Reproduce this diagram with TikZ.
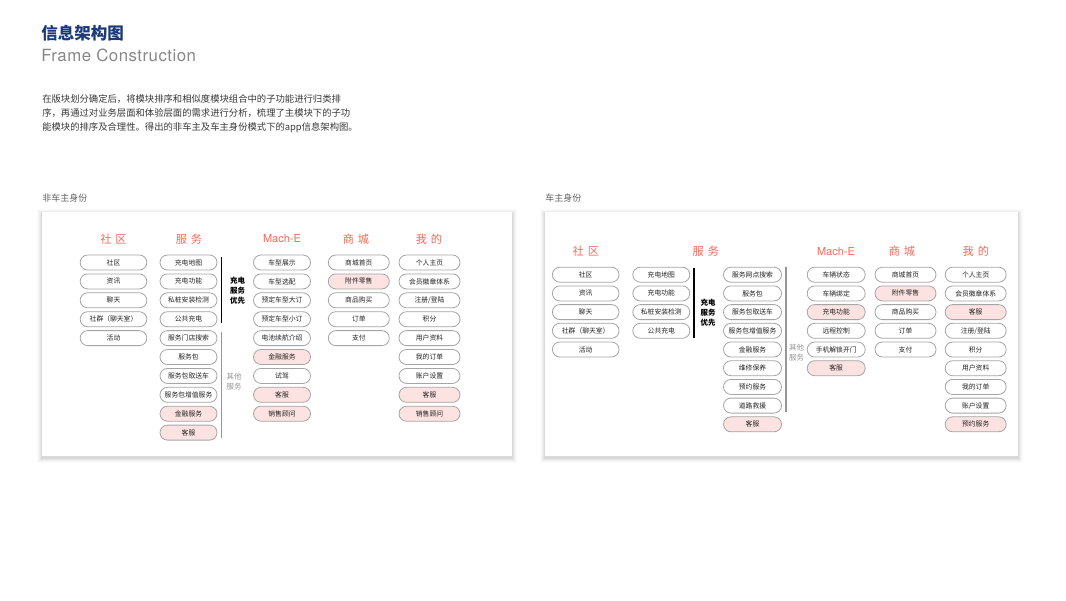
\documentclass[tikz,border=0pt]{standalone}
\usepackage{fontspec}
\setmainfont{Noto Sans CJK SC}
\newfontfamily\heros[LetterSpace=3]{TeX Gyre Heros}
\newfontfamily\herosplain{TeX Gyre Heros}
\definecolor{titleblue}{RGB}{27,58,122}
\definecolor{subgray}{RGB}{135,135,135}
\definecolor{bodygray}{RGB}{55,55,55}
\definecolor{labelgray}{RGB}{95,95,95}
\definecolor{coral}{RGB}{243,108,92}
\definecolor{pinkfill}{RGB}{252,226,224}
\definecolor{pillline}{RGB}{165,165,165}
\definecolor{pilltext}{RGB}{35,35,35}
\definecolor{othergray}{RGB}{150,150,150}
\usetikzlibrary{shapes.misc}
\tikzset{
  pill/.style={draw=pillline, line width=0.6pt, fill=white, rounded rectangle,
    minimum height=11.25pt, minimum width=#1, inner sep=0pt,
    font=\fontsize{5.1}{6}\selectfont, text=pilltext},
  pillhot/.style={pill=#1, fill=pinkfill},
  colhead/.style={text=coral, inner sep=0pt, font=\fontsize{8.4}{9}\selectfont},
  grouptag/.style={align=center, inner sep=0pt, font=\fontsize{5.6}{7.5}\selectfont},
  mainbar/.style={line width=1.1pt, black},
  otherbar/.style={line width=1.1pt, othergray},
}
\begin{document}
\begin{tikzpicture}[x=0.75pt, y=-0.75pt]
  \useasboundingbox (0,0) rectangle (1066,600);

  % header
  \node[anchor=west, inner sep=0pt, text=titleblue, font=\fontsize{12.4}{14}\selectfont\bfseries]
    (title) at (41,33) {信息架构图};
  \node[anchor=west, inner sep=0pt, text=subgray, font=\fontsize{12.6}{14}\selectfont\heros]
    (subtitle) at (41,55) {Frame Construction};
  \node[anchor=north west, inner sep=0pt, align=left, text=bodygray,
        font=\fontsize{7}{10.5}\selectfont] (intro) at (42,94)
    {在版块划分确定后，将模块排序和相似度模块组合中的子功能进行归类排\\
     序，再通过对业务层面和体验层面的需求进行分析，梳理了主模块下的子功\\
     能模块的排序及合理性。得出的非车主及车主身份模式下的app信息架构图。};

  % panel labels
  \node[anchor=west, inner sep=0pt, text=labelgray, font=\fontsize{6.75}{8}\selectfont]
    (lefttag) at (42,198) {非车主身份};
  \node[anchor=west, inner sep=0pt, text=labelgray, font=\fontsize{6.75}{8}\selectfont]
    (righttag) at (545,198) {车主身份};

  % panels with soft shadow
  \foreach \d/\o in {5/0.015,4/0.02,3/0.03,2/0.04,1/0.05} {
    \fill[black, opacity=\o] (42-\d,212-\d+2) rectangle (512+\d,456+\d+2);
    \fill[black, opacity=\o] (545-\d,212-\d+2) rectangle (1018+\d,456+\d+2);
  }
  \fill[white] (42,212) rectangle (512,456);
  \fill[white] (545,212) rectangle (1018,456);

  % ---------------- left panel: 非车主身份 ----------------
  \node[colhead] (lhs) at (113.5,239) {社\hspace{0.35em}区};
  \node[colhead] (lhf) at (189,239) {服\hspace{0.35em}务};
  \node[colhead, font=\fontsize{8.25}{9}\selectfont\herosplain] (lhm) at (282,239) {Mach-E};
  \node[colhead] (lhc) at (356,239) {商\hspace{0.35em}城};
  \node[colhead] (lhw) at (429,239) {我\hspace{0.35em}的};

  % 社区
  \node[pill=50pt] (ls1) at (113.5,262.5) {社区};
  \node[pill=50pt] (ls2) at (113.5,281.4) {资讯};
  \node[pill=50pt] (ls3) at (113.5,300.3) {聊天};
  \node[pill=50pt] (ls4) at (113.5,319.2) {社群（聊天室）};
  \node[pill=50pt] (ls5) at (113.5,338.1) {活动};

  % 服务
  \node[pill=42.75pt] (lf1) at (188.5,262.5) {充电地图};
  \node[pill=42.75pt] (lf2) at (188.5,281.4) {充电功能};
  \node[pill=42.75pt] (lf3) at (188.5,300.3) {私桩安装检测};
  \node[pill=42.75pt] (lf4) at (188.5,319.2) {公共充电};
  \node[pill=42.75pt] (lf5) at (188.5,338.1) {服务门店搜索};
  \node[pill=42.75pt] (lf6) at (188.5,357.0) {服务包};
  \node[pill=42.75pt] (lf7) at (188.5,375.9) {服务包取送车};
  \node[pill=42.75pt] (lf8) at (188.5,394.8) {服务包增值服务};
  \node[pillhot=42.75pt] (lf9) at (188.5,413.7) {金融服务};
  \node[pillhot=42.75pt] (lf10) at (188.5,432.6) {客服};

  \draw[mainbar] (221.7,256.7) -- (221.7,323.3);
  \draw[otherbar] (221.7,331.7) -- (221.7,438.3);
  \node[grouptag, font=\fontsize{5.6}{7.5}\selectfont\bfseries] (lprio) at (237.5,291) {充电\\服务\\优先};
  \node[grouptag, text=othergray] (lother) at (234,382) {其他\\服务};

  % Mach-E
  \node[pill=42.75pt] (lm1) at (282,262.5) {车型展示};
  \node[pill=42.75pt] (lm2) at (282,281.4) {车型选配};
  \node[pill=42.75pt] (lm3) at (282,300.3) {预定车型大订};
  \node[pill=42.75pt] (lm4) at (282,319.2) {预定车型小订};
  \node[pill=42.75pt] (lm5) at (282,338.1) {电池续航介绍};
  \node[pillhot=42.75pt] (lm6) at (282,357.0) {金融服务};
  \node[pill=42.75pt] (lm7) at (282,375.9) {试驾};
  \node[pillhot=42.75pt] (lm8) at (282,394.8) {客服};
  \node[pillhot=42.75pt] (lm9) at (282,413.7) {销售顾问};

  % 商城
  \node[pill=45.75pt] (lc1) at (358.8,262.5) {商城首页};
  \node[pillhot=45.75pt] (lc2) at (358.8,281.4) {附件零售};
  \node[pill=45.75pt] (lc3) at (358.8,300.3) {商品购买};
  \node[pill=45.75pt] (lc4) at (358.8,319.2) {订单};
  \node[pill=45.75pt] (lc5) at (358.8,338.1) {支付};

  % 我的
  \node[pill=45.75pt] (lw1) at (429.5,262.5) {个人主页};
  \node[pill=45.75pt] (lw2) at (429.5,281.4) {会员徽章体系};
  \node[pill=45.75pt] (lw3) at (429.5,300.3) {注册/登陆};
  \node[pill=45.75pt] (lw4) at (429.5,319.2) {积分};
  \node[pill=45.75pt] (lw5) at (429.5,338.1) {用户资料};
  \node[pill=45.75pt] (lw6) at (429.5,357.0) {我的订单};
  \node[pill=45.75pt] (lw7) at (429.5,375.9) {账户设置};
  \node[pillhot=45.75pt] (lw8) at (429.5,394.8) {客服};
  \node[pillhot=45.75pt] (lw9) at (429.5,413.7) {销售顾问};

  % ---------------- right panel: 车主身份 ----------------
  \node[colhead] (rhs) at (585.8,251.5) {社\hspace{0.35em}区};
  \node[colhead] (rhf) at (705.8,251.5) {服\hspace{0.35em}务};
  \node[colhead, font=\fontsize{8.25}{9}\selectfont\herosplain] (rhm) at (836,251.5) {Mach-E};
  \node[colhead] (rhc) at (902,251.5) {商\hspace{0.35em}城};
  \node[colhead] (rhw) at (975.8,251.5) {我\hspace{0.35em}的};

  % 社区
  \node[pill=50pt] (rs1) at (585.7,274.7) {社区};
  \node[pill=50pt] (rs2) at (585.7,293.4) {资讯};
  \node[pill=50pt] (rs3) at (585.7,312.1) {聊天};
  \node[pill=50pt] (rs4) at (585.7,330.8) {社群（聊天室）};
  \node[pill=50pt] (rs5) at (585.7,349.5) {活动};

  % 服务: charging first
  \node[pill=42.75pt] (rf1) at (661.3,274.7) {充电地图};
  \node[pill=42.75pt] (rf2) at (661.3,293.4) {充电功能};
  \node[pill=42.75pt] (rf3) at (661.3,312.1) {私桩安装检测};
  \node[pill=42.75pt] (rf4) at (661.3,330.8) {公共充电};

  \draw[mainbar] (694,268.3) -- (694,338.3);
  \node[grouptag, font=\fontsize{5.6}{7.5}\selectfont\bfseries] (rprio) at (708,313) {充电\\服务\\优先};

  % 服务: others
  \node[pill=43.5pt] (rg1) at (752.5,274.7) {服务网点搜索};
  \node[pill=43.5pt] (rg2) at (752.5,293.4) {服务包};
  \node[pill=43.5pt] (rg3) at (752.5,312.1) {服务包取送车};
  \node[pill=43.5pt] (rg4) at (752.5,330.8) {服务包增值服务};
  \node[pill=43.5pt] (rg5) at (752.5,349.5) {金融服务};
  \node[pill=43.5pt] (rg6) at (752.5,368.2) {维修保养};
  \node[pill=43.5pt] (rg7) at (752.5,386.9) {预约服务};
  \node[pill=43.5pt] (rg8) at (752.5,405.6) {道路救援};
  \node[pillhot=43.5pt] (rg9) at (752.5,424.3) {客服};

  \draw[otherbar] (786,266.7) -- (786,411.7);
  \node[grouptag, text=othergray] (rother) at (796.7,352.3) {其他\\服务};

  % Mach-E
  \node[pill=43.5pt] (rm1) at (836.2,274.7) {车辆状态};
  \node[pill=43.5pt] (rm2) at (836.2,293.4) {车辆绑定};
  \node[pillhot=43.5pt] (rm3) at (836.2,312.1) {充电功能};
  \node[pill=43.5pt] (rm4) at (836.2,330.8) {远程控制};
  \node[pill=43.5pt] (rm5) at (836.2,349.5) {手机解锁开门};
  \node[pillhot=43.5pt] (rm6) at (836.2,368.2) {客服};

  % 商城
  \node[pill=45.75pt] (rc1) at (905.5,274.7) {商城首页};
  \node[pillhot=45.75pt] (rc2) at (905.5,293.4) {附件零售};
  \node[pill=45.75pt] (rc3) at (905.5,312.1) {商品购买};
  \node[pill=45.75pt] (rc4) at (905.5,330.8) {订单};
  \node[pill=45.75pt] (rc5) at (905.5,349.5) {支付};

  % 我的
  \node[pill=45.75pt] (rw1) at (975.7,274.7) {个人主页};
  \node[pill=45.75pt] (rw2) at (975.7,293.4) {会员徽章体系};
  \node[pillhot=45.75pt] (rw3) at (975.7,312.1) {客服};
  \node[pill=45.75pt] (rw4) at (975.7,330.8) {注册/登陆};
  \node[pill=45.75pt] (rw5) at (975.7,349.5) {积分};
  \node[pill=45.75pt] (rw6) at (975.7,368.2) {用户资料};
  \node[pill=45.75pt] (rw7) at (975.7,386.9) {我的订单};
  \node[pill=45.75pt] (rw8) at (975.7,405.6) {账户设置};
  \node[pillhot=45.75pt] (rw9) at (975.7,424.3) {预约服务};
\end{tikzpicture}
\end{document}
